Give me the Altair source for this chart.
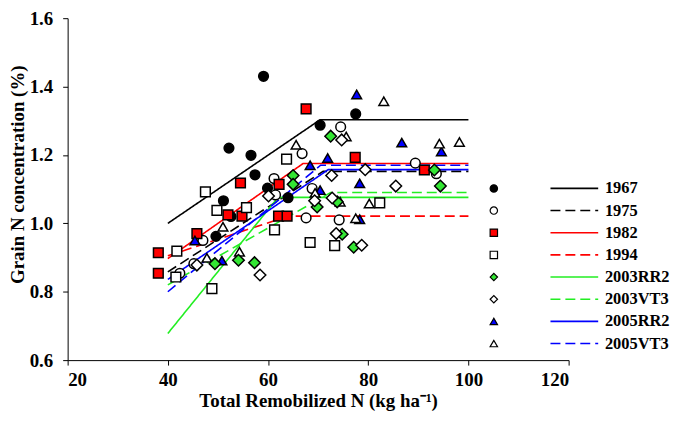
import altair as alt
import pandas as pd

series = ["1967", "1975", "1982", "1994", "2003RR2", "2003VT3", "2005RR2", "2005VT3"]

x_1967 = [59.1, 70.4, 77.5, 52.2, 56.6, 57.4, 59.9, 51.1, 64.0, 52.6, 49.6]
y_1967 = [1.430, 1.287, 1.320, 1.220, 1.199, 1.142, 1.103, 1.066, 1.075, 1.020, 0.962]
x_1975 = [66.8, 74.5, 61.2, 61.5, 68.8, 67.6, 74.2, 89.4, 93.6, 47.0, 45.2, 42.4]
y_1975 = [1.204, 1.282, 1.131, 1.083, 1.102, 1.016, 1.010, 1.176, 1.145, 0.950, 0.882, 0.854]
x_1982 = [67.6, 54.5, 62.2, 77.4, 52.0, 54.8, 45.8, 38.1, 38.1, 62.1, 63.8, 91.2]
y_1982 = [1.335, 1.118, 1.114, 1.193, 1.025, 1.021, 0.970, 0.914, 0.854, 1.021, 1.021, 1.156]
x_1994 = [63.7, 47.5, 49.8, 55.7, 41.8, 41.6, 48.8, 61.3, 68.4, 73.3, 82.3]
y_1994 = [1.188, 1.092, 1.038, 1.046, 0.919, 0.843, 0.809, 0.981, 0.944, 0.935, 1.060]
x_2003rr2 = [72.5, 65.0, 65.0, 69.8, 73.8, 74.8, 77.1, 93.2, 94.4, 49.4, 54.1, 57.3]
y_2003rr2 = [1.255, 1.140, 1.114, 1.048, 1.063, 0.968, 0.930, 1.156, 1.109, 0.882, 0.892, 0.885]
x_2003vt3 = [74.7, 72.7, 79.4, 60.1, 69.3, 72.8, 73.6, 78.7, 85.5, 58.4, 45.8]
y_2003vt3 = [1.244, 1.140, 1.157, 1.080, 1.066, 1.074, 0.970, 0.936, 1.109, 0.849, 0.878]
x_2005rr2 = [77.7, 68.4, 71.9, 86.7, 94.6, 78.3, 70.4, 78.3, 45.4, 50.8]
y_2005rr2 = [1.377, 1.170, 1.191, 1.236, 1.210, 1.117, 1.097, 1.012, 0.950, 0.891]
x_2005vt3 = [83.1, 65.6, 75.6, 94.2, 98.2, 69.4, 74.4, 80.2, 77.5, 51.0, 47.8, 54.3]
y_2005vt3 = [1.357, 1.230, 1.254, 1.233, 1.238, 1.089, 1.063, 1.058, 1.015, 0.990, 0.899, 0.917]

# linear-plateau fits: start at x=40, break point, plateau to x=100
fit_x_start = 40
fit_x_end = 100
fit_y_start = [1.000, 0.858, 0.897, 0.905, 0.678, 0.820, 0.836, 0.800]
fit_x_break = [70.4, 71.0, 67.0, 64.0, 62.0, 72.5, 72.0, 70.5]
fit_plateau = [1.303, 1.152, 1.175, 1.021, 1.076, 1.090, 1.157, 1.170]

point_fill = ["black", "white", "#ff0000", "white", "#33e633", "white", "#0000ff", "white"]
point_shape = ["circle", "circle", "square", "square", "diamond", "diamond",
               "triangle-up", "triangle-up"]
line_color = ["black", "black", "#ff0000", "#ff0000", "#22ee22", "#22ee22", "#0000ff", "#0000ff"]
line_dash = [[1, 0], [10, 5]] * 4

xs = [x_1967, x_1975, x_1982, x_1994, x_2003rr2, x_2003vt3, x_2005rr2, x_2005vt3]
ys = [y_1967, y_1975, y_1982, y_1994, y_2003rr2, y_2003vt3, y_2005rr2, y_2005vt3]

pts = pd.DataFrame(
    [{"Hybrid": s, "x": a, "y": b} for s, xv, yv in zip(series, xs, ys) for a, b in zip(xv, yv)]
)

fit_rows = []
for s, y0, xb, yp in zip(series, fit_y_start, fit_x_break, fit_plateau):
    fit_rows += [
        {"Fit": s, "x": fit_x_start, "y": y0},
        {"Fit": s, "x": xb, "y": yp},
        {"Fit": s, "x": fit_x_end, "y": yp},
    ]
fits = pd.DataFrame(fit_rows)

font = "Liberation Serif"

x_enc = alt.X(
    "x:Q",
    scale=alt.Scale(domain=[20, 120], nice=False, zero=False),
    axis=alt.Axis(title="Total Remobilized N (kg ha⁻¹)", values=[20, 40, 60, 80, 100, 120],
                  labelPadding=6, titlePadding=2),
)
y_enc = alt.Y(
    "y:Q",
    scale=alt.Scale(domain=[0.6, 1.6], nice=False, zero=False),
    axis=alt.Axis(title="Grain N concentration (%)", values=[0.6, 0.8, 1.0, 1.2, 1.4, 1.6],
                  format=".1f", labelPadding=10, titleX=-50, titleY=157,
                  titleBaseline="middle"),
)

line_legend = alt.Legend(
    title=None, orient="none", direction="vertical", legendX=477.5, legendY=163,
    symbolType="M-4,0H4", symbolSize=144, symbolStrokeWidth=1.6,
    symbolOffset=24, labelOffset=22.5,
)
point_legend = alt.Legend(
    title=None, orient="none", direction="vertical", legendX=420.5, legendY=163,
    symbolSize=55, symbolStrokeWidth=1.2, symbolStrokeColor="black", labelOpacity=0,
)

lines = (
    alt.Chart(fits)
    .mark_line(strokeWidth=1.6)
    .encode(
        x=x_enc,
        y=y_enc,
        order="x:Q",
        stroke=alt.Stroke("Fit:N", scale=alt.Scale(range=line_color), legend=line_legend),
        strokeDash=alt.StrokeDash("Fit:N", scale=alt.Scale(range=line_dash), legend=line_legend),
    )
)

point_enc = dict(
    x=x_enc,
    y=y_enc,
    color=alt.Color("Hybrid:N", scale=alt.Scale(range=point_fill), legend=point_legend),
    shape=alt.Shape("Hybrid:N", scale=alt.Scale(range=point_shape), legend=point_legend),
)

diamond_series = ["2003RR2", "2003VT3"]

points = (
    alt.Chart(pts)
    .mark_point(filled=True, stroke="black", strokeWidth=1.5, opacity=1, size=95)
    .encode(**point_enc)
    .transform_filter(~alt.FieldOneOfPredicate(field="Hybrid", oneOf=diamond_series))
)

diamonds = (
    alt.Chart(pts)
    .mark_point(filled=True, stroke="black", strokeWidth=1.5, opacity=1, size=135)
    .encode(**point_enc)
    .transform_filter(alt.FieldOneOfPredicate(field="Hybrid", oneOf=diamond_series))
)

chart = (
    alt.layer(lines, points, diamonds)
    .properties(
        width=504,
        height=344,
        autosize=alt.AutoSizeParams(type="none"),
        padding={"left": 60, "top": 9, "right": 104, "bottom": 61},
    )
    .configure_view(stroke=None)
    .configure_axis(
        grid=False,
        domainColor="black",
        domainWidth=1,
        tickColor="black",
        tickSize=5,
        tickWidth=1,
        labelFont=font,
        labelFontSize=19,
        labelFontWeight="bold",
        labelColor="black",
        titleFont=font,
        titleFontSize=19,
        titleFontWeight="bold",
        titleColor="black",
    )
    .configure_legend(
        labelFont=font,
        labelFontSize=16.5,
        labelFontWeight="bold",
        labelColor="black",
        padding=0,
        rowPadding=5.3,
    )
)

chart.save("out.html", embed_options={"renderer": "svg", "actions": False})
